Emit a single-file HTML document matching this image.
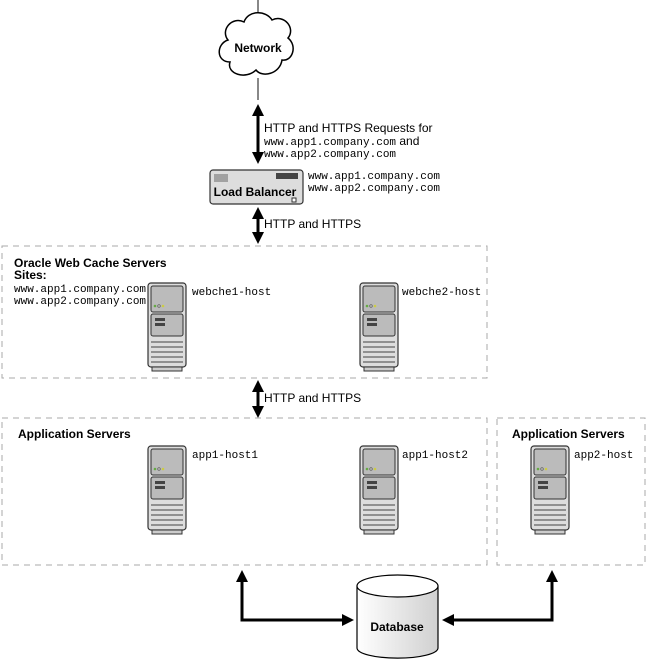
<!DOCTYPE html>
<html><head><style>
body{margin:0;background:#fff}
svg{display:block}
.s{font-family:"Liberation Sans",sans-serif;font-size:12px}
.b{font-family:"Liberation Sans",sans-serif;font-size:12px;font-weight:bold}
.m{font-family:"Liberation Mono",monospace;font-size:11px}
</style></head><body>
<svg width="647" height="663" viewBox="0 0 647 663" xmlns="http://www.w3.org/2000/svg">
<defs>
<linearGradient id="g" x1="0" x2="1"><stop offset="0" stop-color="#fff"/><stop offset="1" stop-color="#d0d0d0"/></linearGradient>
<marker id="a" markerWidth="4" markerHeight="4" refX="2" refY="2" orient="auto-start-reverse"><path d="M0,0L4,2L0,4z" fill="#000"/></marker>
<g id="srv">
<rect x="0" y="0" width="38" height="84" rx="3" fill="#ddd" stroke="#333" stroke-width="1.2"/>
<rect x="3" y="3" width="32" height="26" rx="2" fill="#bbb" stroke="#333"/>
<circle cx="7" cy="23" r="1.3" fill="#6a4"/><circle cx="11" cy="23" r="1.3" fill="none" stroke="#555" stroke-width=".6"/><circle cx="15" cy="23" r="1.3" fill="#cc4"/>
<rect x="3" y="31" width="32" height="22" rx="2" fill="#bbb" stroke="#333"/>
<rect x="7" y="35" width="10" height="3" fill="#444"/><rect x="7" y="40" width="10" height="3" fill="#444"/>
<path d="M3,59H35M3,64H35M3,69H35M3,74H35M3,79H35" stroke="#444"/>
<rect x="4" y="84" width="30" height="4" fill="#ccc" stroke="#333"/>
</g>
</defs>
<line x1="258" y1="0" x2="258" y2="20" stroke="#888" stroke-width="2"/>
<line x1="258" y1="78" x2="258" y2="100" stroke="#888" stroke-width="2"/>
<path d="M228,40 C220,30 232,16 244,22 C248,10 266,10 272,20 C284,14 296,28 288,38 C298,46 292,62 282,60 C280,74 262,78 256,70 C246,80 226,74 230,62 C216,62 216,44 228,40Z" fill="#fff" stroke="#000" stroke-width="1.5"/>
<text x="258" y="52" class="b" text-anchor="middle">Network</text>
<g stroke="#000" stroke-width="3" fill="none" marker-start="url(#a)" marker-end="url(#a)">
<line x1="258" y1="110" x2="258" y2="158"/>
<line x1="258" y1="213" x2="258" y2="238"/>
<line x1="258" y1="386" x2="258" y2="412"/>
</g>
<text x="264" y="132" class="s">HTTP and HTTPS Requests for</text>
<text x="264" y="145"><tspan class="m">www.app1.company.com</tspan><tspan class="s"> and</tspan></text>
<text x="264" y="157" class="m">www.app2.company.com</text>
<rect x="210" y="170" width="93" height="34" rx="3" fill="#ddd" stroke="#333" stroke-width="1.2"/>
<path d="M215,174v8M217,174v8M219,174v8M221,174v8M223,174v8M225,174v8M227,174v8" stroke="#333" stroke-width=".7"/>
<rect x="276" y="173" width="22" height="6" fill="#444"/>
<rect x="292" y="198" width="4" height="4" fill="#fff" stroke="#333"/>
<text x="255" y="196" class="b" text-anchor="middle" font-size="13">Load Balancer</text>
<text x="308" y="179" class="m">www.app1.company.com</text>
<text x="308" y="191" class="m">www.app2.company.com</text>
<text x="264" y="228" class="s">HTTP and HTTPS</text>
<g fill="none" stroke="#aaa" stroke-dasharray="6,5">
<rect x="2" y="246" width="485" height="132"/>
<rect x="2" y="418" width="485" height="147"/>
<rect x="497" y="418" width="148" height="147"/>
</g>
<text x="14" y="267" class="b">Oracle Web Cache Servers</text>
<text x="14" y="279" class="b">Sites:</text>
<text x="14" y="292" class="m">www.app1.company.com</text>
<text x="14" y="304" class="m">www.app2.company.com</text>
<use href="#srv" x="148" y="283"/><text x="192" y="295" class="m">webche1-host</text>
<use href="#srv" x="360" y="283"/><text x="402" y="295" class="m">webche2-host</text>
<text x="264" y="402" class="s">HTTP and HTTPS</text>
<text x="18" y="438" class="b">Application Servers</text>
<text x="512" y="438" class="b">Application Servers</text>
<use href="#srv" x="148" y="446"/><text x="192" y="458" class="m">app1-host1</text>
<use href="#srv" x="360" y="446"/><text x="402" y="458" class="m">app1-host2</text>
<use href="#srv" x="531" y="446"/><text x="574" y="458" class="m">app2-host</text>
<g stroke="#000" stroke-width="3" fill="none">
<polyline points="242,576 242,620 348,620" marker-end="url(#a)" marker-start="url(#a)"/>
<polyline points="552,576 552,620 448,620" marker-end="url(#a)" marker-start="url(#a)"/>
</g>
<path d="M357,586 V648 A40,10 0 0 0 438,648 V586" fill="url(#g)" stroke="#000" stroke-width="1.2"/>
<ellipse cx="397.5" cy="586" rx="40.5" ry="11" fill="#fff" stroke="#000" stroke-width="1.2"/>
<text x="397" y="631" class="b" text-anchor="middle">Database</text>
</svg>
</body></html>
